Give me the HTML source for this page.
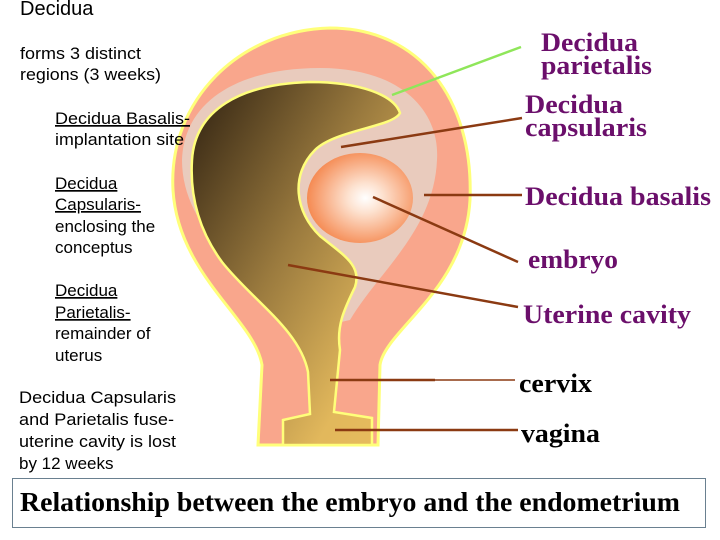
<!DOCTYPE html>
<html><head><meta charset="utf-8"><style>
html,body{margin:0;padding:0;background:#fff;width:720px;height:540px;overflow:hidden}
svg{display:block}
.l{font-family:"Liberation Sans",Arial,sans-serif;font-size:17px;fill:#000}
.p{font-family:"Liberation Serif","Times New Roman",serif;font-weight:bold;font-size:26px;fill:#6b0f6b}
.b{font-family:"Liberation Serif","Times New Roman",serif;font-weight:bold;font-size:26px;fill:#000}
</style></head><body>
<svg width="720" height="540" viewBox="0 0 720 540" xmlns="http://www.w3.org/2000/svg">
<defs>
<linearGradient id="cav" x1="0" y1="0" x2="1" y2="1">
<stop offset="0" stop-color="#2e2010"/><stop offset="0.45" stop-color="#9a7a3e"/><stop offset="0.8" stop-color="#e2b85c"/><stop offset="1" stop-color="#e8bc5e"/>
</linearGradient>
<radialGradient id="emb" cx="0.55" cy="0.5" r="0.55">
<stop offset="0" stop-color="#ffffff"/><stop offset="0.3" stop-color="#fde2d0"/><stop offset="1" stop-color="#f58a52"/>
</radialGradient>
</defs>
<path d="M258 445 L262 365 C255 320 178 275 173 190 C168 100 240 30 330 28 C420 28 474 100 470 200 C465 290 385 330 380 365 L378 445 Z" fill="#f9a68c" stroke="#ffff7a" stroke-width="3"/>
<path d="M305 330 C240 270 182 225 182 160 C184 100 240 68 320 68 C400 68 440 110 437 160 C434 230 380 270 350 320 Z" fill="#e9cbbd"/>
<path d="M283 445 L283 420 L310 414 L308 372 C300 330 252 300 222 262 C197 228 190 192 192 160 C195 110 240 84 310 82 C360 82 394 95 400 113 C393 127 335 130 315 150 C290 175 295 212 320 236 C345 256 362 266 355 287 C345 308 336 325 340 350 L334 412 L372 418 L372 445 Z" fill="url(#cav)" stroke="#ffff7a" stroke-width="2.5"/>
<ellipse cx="360" cy="198" rx="53" ry="45" fill="url(#emb)"/>
<line x1="392" y1="95" x2="521" y2="47" stroke="#8fe65a" stroke-width="2.5"/>
<g stroke="#8b3a12" stroke-width="2.5">
<line x1="341" y1="147" x2="522" y2="118"/>
<line x1="424" y1="195" x2="522" y2="195"/>
<line x1="373" y1="197" x2="518" y2="262"/>
<line x1="288" y1="265" x2="518" y2="307"/>
<line x1="330" y1="380" x2="435" y2="380"/>
<line x1="335" y1="430" x2="518" y2="430"/>
</g>
<line x1="435" y1="380" x2="515" y2="380" stroke="#8b3a12" stroke-width="1.5"/>
<g lengthAdjust="spacingAndGlyphs">
<text x="20" y="15" class="l" style="font-size:20px">Decidua</text>
<text x="20" y="59" class="l" textLength="121" lengthAdjust="spacingAndGlyphs">forms 3 distinct</text>
<text x="20" y="80" class="l" textLength="141" lengthAdjust="spacingAndGlyphs">regions (3 weeks)</text>
<text x="55" y="124" class="l" text-decoration="underline" textLength="135" lengthAdjust="spacingAndGlyphs">Decidua Basalis-</text>
<text x="55" y="145" class="l" textLength="129" lengthAdjust="spacingAndGlyphs">implantation site</text>
<text x="55" y="189" class="l" text-decoration="underline">Decidua</text>
<text x="55" y="210" class="l" text-decoration="underline">Capsularis-</text>
<text x="55" y="232" class="l">enclosing the</text>
<text x="55" y="253" class="l">conceptus</text>
<text x="55" y="296" class="l" text-decoration="underline">Decidua</text>
<text x="55" y="318" class="l" text-decoration="underline">Parietalis-</text>
<text x="55" y="339" class="l">remainder of</text>
<text x="55" y="361" class="l">uterus</text>
<text x="19" y="403" class="l" textLength="157" lengthAdjust="spacingAndGlyphs">Decidua Capsularis</text>
<text x="19" y="425" class="l" textLength="155" lengthAdjust="spacingAndGlyphs">and Parietalis fuse-</text>
<text x="19" y="447" class="l" textLength="157" lengthAdjust="spacingAndGlyphs">uterine cavity is lost</text>
<text x="19" y="469" class="l">by 12 weeks</text>
<text x="541" y="51" class="p" textLength="97" lengthAdjust="spacingAndGlyphs">Decidua</text>
<text x="541" y="74" class="p" textLength="111" lengthAdjust="spacingAndGlyphs">parietalis</text>
<text x="525" y="113" class="p" textLength="98" lengthAdjust="spacingAndGlyphs">Decidua</text>
<text x="525" y="136" class="p" textLength="122" lengthAdjust="spacingAndGlyphs">capsularis</text>
<text x="525" y="205" class="p" textLength="186" lengthAdjust="spacingAndGlyphs">Decidua basalis</text>
<text x="528" y="268" class="p" textLength="90" lengthAdjust="spacingAndGlyphs">embryo</text>
<text x="523" y="323" class="p" textLength="168" lengthAdjust="spacingAndGlyphs">Uterine cavity</text>
<text x="519" y="392" class="b" textLength="73" lengthAdjust="spacingAndGlyphs">cervix</text>
<text x="521" y="442" class="b" textLength="79" lengthAdjust="spacingAndGlyphs">vagina</text>
</g>
<rect x="12.5" y="478.5" width="693" height="49" fill="#fff" stroke="#6a8090" stroke-width="1"/>
<text x="20" y="511" class="b" style="font-size:27px" textLength="660" lengthAdjust="spacingAndGlyphs">Relationship between the embryo and the endometrium</text>
</svg>
</body></html>
